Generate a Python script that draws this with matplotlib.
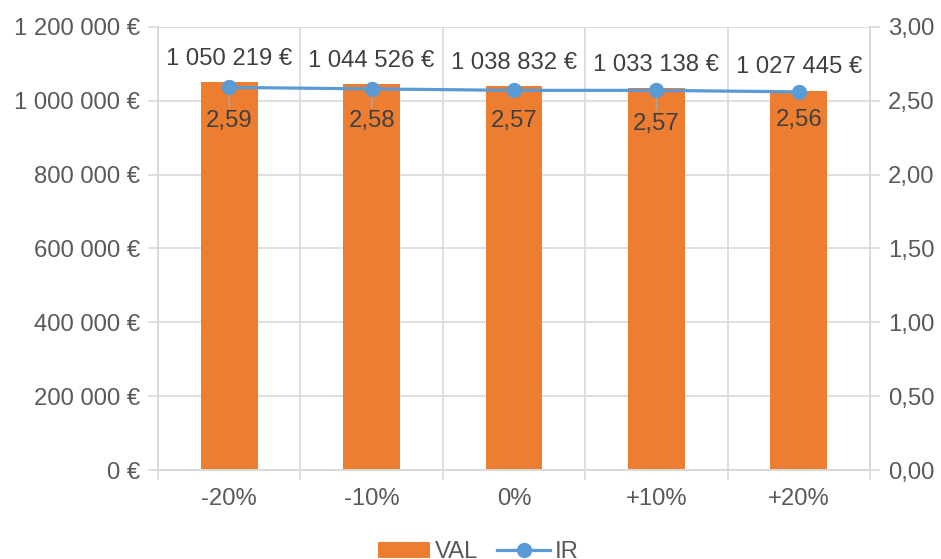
import matplotlib
matplotlib.use("Agg")
import matplotlib.pyplot as plt
from matplotlib.ticker import FuncFormatter, MultipleLocator

plt.rcParams['font.family'] = ['Liberation Sans', 'DejaVu Sans']

# Sensitivity scenarios
categories = ["-20%", "-10%", "0%", "+10%", "+20%"]
val = [1050219, 1044526, 1038832, 1033138, 1027445]
ir = [2.59, 2.58, 2.57, 2.57, 2.56]

BAR_COLOR = "#ED7D31"
LINE_COLOR = "#5B9BD5"
GRID_COLOR = "#D9D9D9"
TICK_TEXT = "#595959"
LABEL_TEXT = "#404040"
FS = 17.2

# vertical offsets (points) of the IR labels below their markers
ir_label_offsets = [-24, -23, -22, -24, -20]
ir_leader = [True, True, False, True, False]


def fmt_thousands(v):
    return f"{int(round(v)):,}".replace(",", " ")


fig = plt.figure(figsize=(9.41, 5.59), dpi=100)
ax = fig.add_axes([0.168, 0.159, 0.7565, 0.793])
ax2 = ax.twinx()

x = list(range(len(categories)))

ax.bar(x, val, width=0.4, color=BAR_COLOR, zorder=2, label="VAL")
ax.set_ylim(0, 1200000)
ax.set_xlim(-0.5, len(categories) - 0.5)
ax.yaxis.set_major_locator(MultipleLocator(200000))
ax.yaxis.set_major_formatter(FuncFormatter(lambda v, p: f"{fmt_thousands(v)} €"))

ax.set_xticks(x)
ax.set_xticklabels(categories)
ax.set_xticks([i - 0.5 for i in range(len(categories) + 1)], minor=True)
ax.tick_params(axis='x', which='major', length=0, pad=13, labelsize=FS, labelcolor=TICK_TEXT)
ax.tick_params(axis='x', which='minor', length=7, color=GRID_COLOR, width=1.2)
ax.tick_params(axis='y', length=7, color=GRID_COLOR, width=1.2, labelsize=FS,
               labelcolor=TICK_TEXT, pad=6)

ax.grid(True, axis='y', which='major', color=GRID_COLOR, linewidth=1.2, zorder=0)
ax.grid(True, axis='x', which='minor', color=GRID_COLOR, linewidth=1.2, zorder=0)
ax.grid(False, axis='x', which='major')
ax.set_axisbelow(True)

for a in (ax, ax2):
    a.spines['top'].set_visible(False)
    for s in ['left', 'right', 'bottom']:
        a.spines[s].set_color(GRID_COLOR)
        a.spines[s].set_linewidth(1.2)

for xi, v in zip(x, val):
    ax.annotate(f"{fmt_thousands(v)} €", (xi, v), xytext=(0, 9), textcoords='offset points',
                ha='center', va='bottom', fontsize=FS, color=LABEL_TEXT, zorder=5)

ax2.plot(x, ir, color=LINE_COLOR, linewidth=2.3, marker='o', markersize=10,
         zorder=4, label="IR")
ax2.set_ylim(0, 3.0)
ax2.yaxis.set_major_locator(MultipleLocator(0.5))
ax2.yaxis.set_major_formatter(FuncFormatter(lambda v, p: f"{v:.2f}".replace(".", ",")))
ax2.tick_params(axis='y', length=7, color=GRID_COLOR, width=1.2, labelsize=FS,
                labelcolor=TICK_TEXT, pad=6)

for xi, v, off, lead in zip(x, ir, ir_label_offsets, ir_leader):
    ax2.annotate(f"{v:.2f}".replace(".", ","), (xi, v), xytext=(0, off),
                 textcoords='offset points', ha='center', va='center', fontsize=FS,
                 color=LABEL_TEXT, zorder=5)
    if lead:
        ax2.annotate("", (xi, v), xytext=(0, off + 10), textcoords='offset points',
                     arrowprops=dict(arrowstyle='-', color='#A6A6A6', lw=1.2,
                                     shrinkA=0, shrinkB=4), zorder=3)

h1, l1 = ax.get_legend_handles_labels()
h2, l2 = ax2.get_legend_handles_labels()
fig.legend(h1 + h2, l1 + l2, loc='center', bbox_to_anchor=(0.508, 0.012), ncol=2,
           frameon=False, fontsize=FS, labelcolor=TICK_TEXT, handlelength=2.2,
           handletextpad=0.2, columnspacing=0.8, handleheight=0.7)

fig.savefig("out.png", dpi=100)
